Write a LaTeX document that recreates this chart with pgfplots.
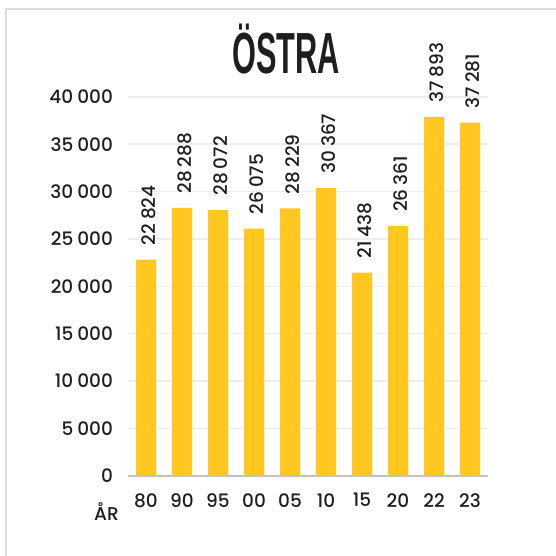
\documentclass[border=0pt]{standalone}
\usepackage{fontspec}
\setmainfont{Poppins}[UprightFont={* Medium}]
\newfontfamily\titlefont{Liberation Sans}
\usepackage{graphicx}
\usepackage{pgfplots}
\usepackage{pgfplotstable}
\pgfplotsset{compat=1.18}

\definecolor{baryellow}{HTML}{FFC71F}
\definecolor{gridgray}{HTML}{EDEDED}
\definecolor{axisgray}{HTML}{C4C4C4}
\definecolor{framegray}{HTML}{DDDDDD}
\definecolor{txt}{HTML}{1E1E1E}

% invånare per år, Östra
\pgfplotstableread{
x val
0 22824
1 28288
2 28072
3 26075
4 28229
5 30367
6 21438
7 26361
8 37893
9 37281
}\ostra

\begin{document}
\begin{tikzpicture}[x=1pt,y=1pt]
\path[use as bounding box] (0,0) rectangle (556,556);
\fill[white] (0,0) rectangle (556,556);
\draw[framegray, line width=2pt] (5.7,0) -- (5.7,546.7) -- (556,546.7);
\node[txt] at (286,506.5) {\scalebox{0.53}[1]{\fontsize{58}{58}\titlefont\bfseries ÖSTRA}};
\node[txt, font=\fontsize{18.5}{21}\selectfont] at (106.4,44) {ÅR};
\begin{axis}[
    at={(128pt,80.2pt)}, anchor=south west,
    scale only axis,
    width=360pt, height=379pt,
    ybar, bar width=20pt,
    xmin=-0.5, xmax=9.5,
    ymin=0, ymax=40000,
    ytick={0,5000,...,40000},
    xtick=data,
    xticklabels={80,90,95,00,05,10,15,20,22,23},
    scaled y ticks=false,
    /pgf/number format/1000 sep={\hspace{0.22em}},
    /pgf/number format/assume math mode=true,
    major tick length=0pt,
    ymajorgrids,
    grid style={draw=gridgray, line width=1.5pt},
    axis x line*=bottom,
    axis y line*=left,
    x axis line style={draw=axisgray, line width=2.5pt, -},
    y axis line style={draw=none},
    ticklabel style={font=\fontsize{18.5}{21}\selectfont, text=txt},
    yticklabel style={xshift=-11.5pt},
    xticklabel style={yshift=-14pt},
    nodes near coords,
    every node near coord/.append style={
        xshift=3pt, rotate=90, anchor=west, inner xsep=14pt,
        font=\fontsize{18.5}{21}\selectfont, text=txt},
    clip=false,
]
\addplot[fill=baryellow, draw=none] table[x=x, y=val] {\ostra};
\end{axis}
\end{tikzpicture}
\end{document}
